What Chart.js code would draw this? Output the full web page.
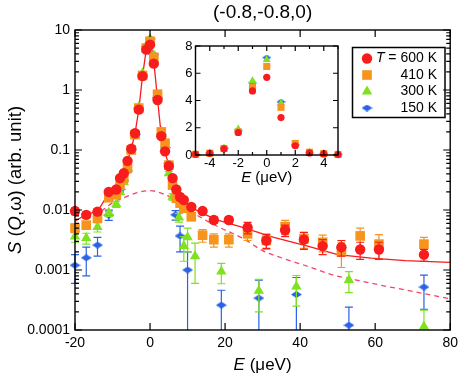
<!DOCTYPE html>
<html>
<head>
<meta charset="utf-8">
<script src="https://cdn.jsdelivr.net/npm/chart.js@4.4.0/dist/chart.umd.min.js"></script>
<style>
html, body { margin: 0; padding: 0; background: #fff; }
#wrap { position: relative; width: 463px; height: 375px; }
#main { position: absolute; left: 0; top: 0; }
#inset { position: absolute; left: 172px; top: 34px; }
</style>
</head>
<body>
<div id="wrap">
  <canvas id="main" width="463" height="375" style="width:463px;height:375px"></canvas>
  <canvas id="inset" width="175" height="160" style="width:175px;height:160px"></canvas>
</div>
<script>
// main panel: S(Q,w) against E (ueV), log scale
const E_600 = [-20,-17,-14,-11,-9,-8,-7,-6,-5,-4,-3,-2,-1,0,1,2,3,4,5,6,7,8,9,11,14,17,21,26,31,36,41,46,51,56,61,73];
const S_600 = [0.0096,0.0083,0.0094,0.020,0.022,0.034,0.041,0.066,0.105,0.19,0.47,1.7,4.7,5.7,2.75,0.68,0.17,0.095,0.054,0.034,0.022,0.0165,0.0147,0.0112,0.0096,0.0068,0.0068,0.0051,0.0031,0.0046,0.0032,0.0025,0.0024,0.0022,0.0022,0.0018];
const ERR_600 = [0.0012,0.001,0.001,0.0015,0.0015,0.002,0.002,0.003,0.004,0.006,0.01,0.03,0.06,0.07,0.05,0.02,0.006,0.004,0.003,0.002,0.0015,0.0012,0.0011,0.001,0.0009,0.0008,0.0008,0.0011,0.0008,0.001,0.001,0.0007,0.0007,0.0007,0.0007,0.0004];

const E_410 = [-20,-17,-14,-11,-9,-8,-7,-6,-5,-4,-3,-2,-1,0,1,2,3,4,5,6,7,8,9,11,14,17,21,26,31,36,41,46,51,56,61,73];
const S_410 = [0.0050,0.0056,0.0073,0.016,0.018,0.026,0.034,0.05,0.1,0.18,0.5,1.75,5.0,6.5,3.5,0.85,0.2,0.13,0.056,0.026,0.0157,0.013,0.0107,0.0077,0.0038,0.0032,0.0032,0.0040,0.0031,0.0053,0.0033,0.0029,0.0020,0.0037,0.0027,0.0027];
const ERR_410 = [0.0008,0.0008,0.0009,0.0015,0.0015,0.002,0.002,0.003,0.004,0.006,0.01,0.03,0.06,0.07,0.05,0.02,0.006,0.005,0.003,0.002,0.0015,0.0013,0.0012,0.001,0.0009,0.0008,0.0008,0.0009,0.0009,0.0014,0.001,0.0009,0.0009,0.0013,0.0012,0.0008];

const E_300 = [-20,-17,-14,-11,-9,-8,-7,-6,-5,-4,-3,-2,-1,0,1,2,3,4,5,6,7.7,9,10,12,19,29,39,53,73];
const S_300 = [0.0036,0.0034,0.0052,0.009,0.0125,0.02,0.029,0.05,0.1,0.18,0.52,1.9,5.45,7.0,3.8,0.78,0.2,0.12,0.041,0.0166,0.0075,0.0025,0.0035,0.0017,0.00094,0.00045,0.00053,0.00068,0.000114];
const ERR_300 = [0.0007,0.0007,0.0009,0.0012,0.0015,0.002,0.002,0.003,0.004,0.006,0.01,0.03,0.06,0.07,0.05,0.02,0.006,0.005,0.003,0.002,0.0012,0.0011,0.0015,0.0011,0.00035,0.00025,0.00028,0.00026,0.0001];

const E_150 = [-20,-17,-14,-11,-8,-7,-6,-5,-4,-3,-2,-1,0,1,2,3,4,5,6.8,8,10,19,29,39,53,73];
const S_150 = [0.0012,0.0016,0.0026,0.0082,0.022,0.031,0.045,0.1,0.18,0.5,1.8,5.3,7.1,3.9,0.75,0.18,0.11,0.06,0.0083,0.0037,0.001,0.00026,0.00034,0.00039,0.00012,0.00052];
const ERR_150 = [0.0006,0.0008,0.0009,0.0015,0.002,0.002,0.003,0.004,0.006,0.01,0.03,0.06,0.07,0.05,0.02,0.006,0.005,0.003,0.0015,0.0017,0.001,0.0002,0.00034,0.00036,0.00012,0.0003];

// fitted curve (solid) and broad component (dashed)
const E_FIT = [-20,-17,-14,-11,-9,-8,-7,-6,-5,-4,-3,-2,-1,0,1,2,3,4,5,6,7,8,9,11,14,18,24,33,42,50,59,68,80];
const S_FIT = [0.0065,0.0085,0.0095,0.019,0.022,0.033,0.041,0.066,0.105,0.19,0.47,1.7,4.8,7.2,3.0,0.7,0.17,0.095,0.054,0.034,0.022,0.0165,0.0147,0.011,0.0088,0.0068,0.0053,0.0035,0.0025,0.0018,0.00158,0.00143,0.00134];
const E_BROAD = [-13,-10,-7,-4,0,4,8,11,15.5,18,25,30,35,43,48,55,62,70,80];
const S_BROAD = [0.0095,0.0132,0.016,0.019,0.021,0.018,0.013,0.0094,0.0064,0.0053,0.0033,0.0021,0.0016,0.0011,0.00085,0.00068,0.00055,0.00044,0.00033];

// inset, linear scale
const INSET_E = [-5,-4,-3,-2,-1,0,1,2,3,4,5];
const INSET_600 = [0.05,0.12,0.45,1.65,4.7,5.7,2.75,0.68,0.15,0.08,0.03];
const INSET_410 = [0.05,0.13,0.48,1.7,5.0,6.5,3.5,0.85,0.2,0.1,0.04];
const INSET_300 = [0.05,0.15,0.5,1.9,5.45,7.0,3.8,0.75,0.2,0.1,0.04];
const INSET_150 = [0.05,0.15,0.5,1.8,5.3,7.15,3.9,0.75,0.18,0.1,0.04];

const LEGEND_LABELS = ['600 K', '410 K', '300 K', '150 K'];
const X_TICKS = [-20, 0, 20, 40, 60, 80];
const Y_TICKS = [0.0001, 0.001, 0.01, 0.1, 1, 10];
const Y_TICK_LABELS = ['0.0001', '0.001', '0.01', '0.1', '1', '10'];
const INSET_X_TICKS = [-4, -2, 0, 2, 4];
const INSET_X_MINOR = [-5, -3, -1, 1, 3, 5];
const INSET_Y_TICKS = [0, 2, 4, 6, 8];

const FONT = '"Liberation Sans", Arial, Helvetica, sans-serif';
const RED = '#f81c1c', ORANGE = '#f7941e', GREEN = '#7ee21e', BLUE = '#2a62e6', PINK = '#f0466a';

Chart.defaults.font.family = FONT;
Chart.defaults.color = '#000';

function pts(xs, ys) { return xs.map((x, i) => ({ x: x, y: ys[i] })); }

function diamond(w, h, color) {
    const c = document.createElement('canvas');
    c.width = w; c.height = h;
    const g = c.getContext('2d');
    g.fillStyle = color;
    g.beginPath();
    g.moveTo(0, h / 2); g.lineTo(w / 2, 0); g.lineTo(w, h / 2); g.lineTo(w / 2, h);
    g.closePath(); g.fill();
    return c;
}

// text with italic pieces, parts = [[text, italic], ...]
function richText(ctx, parts, x, y, size, align) {
    const fontOf = it => (it ? 'italic ' : '') + size + 'px ' + FONT;
    const widths = parts.map(p => { ctx.font = fontOf(p[1]); return ctx.measureText(p[0]).width; });
    const total = widths.reduce((a, b) => a + b, 0);
    let cx = align === 'right' ? x - total : x - total / 2;
    ctx.textAlign = 'left';
    ctx.textBaseline = 'middle';
    ctx.fillStyle = '#000';
    parts.forEach((p, i) => { ctx.font = fontOf(p[1]); ctx.fillText(p[0], cx, y); cx += widths[i]; });
}

// box + inward ticks on all four sides
const framePlugin = {
    id: 'frame',
    afterDraw(chart, args, o) {
        const ctx = chart.ctx, a = chart.chartArea;
        const xs = chart.scales.x, ys = chart.scales.y;
        ctx.save();
        ctx.strokeStyle = '#000';
        ctx.lineWidth = 1.2;
        ctx.beginPath();
        const tx = (v, len) => {
            const p = xs.getPixelForValue(v);
            ctx.moveTo(p, a.bottom); ctx.lineTo(p, a.bottom - len);
            ctx.moveTo(p, a.top); ctx.lineTo(p, a.top + len);
        };
        const ty = (v, len) => {
            const p = ys.getPixelForValue(v);
            ctx.moveTo(a.left, p); ctx.lineTo(a.left + len, p);
            ctx.moveTo(a.right, p); ctx.lineTo(a.right - len, p);
        };
        o.xMajor.forEach(v => tx(v, o.major));
        (o.xMinor || []).forEach(v => tx(v, o.minor));
        o.yMajor.forEach(v => ty(v, o.major));
        (o.yMinor || []).forEach(v => ty(v, o.minor));
        ctx.stroke();
        ctx.lineWidth = 1.4;
        ctx.strokeRect(a.left, a.top, a.right - a.left, a.bottom - a.top);
        ctx.restore();
    }
};

const errorBarPlugin = {
    id: 'errorBars',
    beforeDatasetDraw(chart, args) {
        const ds = chart.data.datasets[args.index];
        if (!ds.errors) return;
        const ctx = chart.ctx, a = chart.chartArea;
        const xs = chart.scales.x, ys = chart.scales.y;
        ctx.save();
        ctx.strokeStyle = ds.errColor;
        ctx.lineWidth = 1.2;
        ctx.beginPath();
        ds.data.forEach((p, i) => {
            const e = ds.errors[i];
            const px = xs.getPixelForValue(p.x);
            const lo = p.y - e;
            let yTop = ys.getPixelForValue(p.y + e);
            let yBot = lo > 0 ? ys.getPixelForValue(lo) : a.bottom;
            const botCap = lo > 0 && yBot <= a.bottom;
            yTop = Math.max(yTop, a.top);
            yBot = Math.min(yBot, a.bottom);
            ctx.moveTo(px, yTop); ctx.lineTo(px, yBot);
            ctx.moveTo(px - 4, yTop); ctx.lineTo(px + 4, yTop);
            if (botCap) { ctx.moveTo(px - 4, yBot); ctx.lineTo(px + 4, yBot); }
        });
        ctx.stroke();
        ctx.restore();
    }
};

const mainText = {
    id: 'mainText',
    afterDraw(chart) {
        const ctx = chart.ctx, a = chart.chartArea;
        ctx.save();
        richText(ctx, [['E', true], [' (\u03bceV)', false]], (a.left + a.right) / 2, 365, 17);
        ctx.translate(16, (a.top + a.bottom) / 2);
        ctx.rotate(-Math.PI / 2);
        richText(ctx, [['S', true], [' (', false], ['Q', true], [',\u03c9) (arb. unit)', false]], 0, 0, 18.5);
        ctx.restore();

        // legend box
        ctx.save();
        ctx.strokeStyle = '#000';
        ctx.lineWidth = 1.5;
        ctx.strokeRect(352.5, 47.5, 92.5, 70);
        const rows = [58.5, 75, 91.5, 108];
        chart.data.datasets.slice(0, 4).forEach((ds, i) => {
            ctx.fillStyle = ds.backgroundColor;
            Chart.helpers.drawPoint(ctx, { pointStyle: ds.pointStyle, radius: ds.pointRadius, rotation: 0, borderWidth: 0 }, 367, rows[i]);
            const parts = i === 0 ? [['T', true], [' = ' + LEGEND_LABELS[i], false]] : [[LEGEND_LABELS[i], false]];
            richText(ctx, parts, 437, rows[i], 14, 'right');
        });
        ctx.restore();
    }
};

const insetText = {
    id: 'insetText',
    beforeDraw(chart) {
        const ctx = chart.ctx, a = chart.chartArea;
        ctx.save();
        ctx.fillStyle = '#fff';
        ctx.fillRect(a.left, a.top, a.right - a.left, a.bottom - a.top);
        ctx.restore();
    },
    afterDraw(chart) {
        const ctx = chart.ctx, a = chart.chartArea;
        ctx.save();
        richText(ctx, [['E', true], [' (\u03bceV)', false]], (a.left + a.right) / 2, 144, 15);
        ctx.restore();
    }
};

function series(label, xs, ys, errs, color, style, r, order) {
    return {
        label: label, data: pts(xs, ys), errors: errs, errColor: color,
        backgroundColor: color, borderColor: color, borderWidth: 0,
        pointStyle: style, pointRadius: r, order: order, clip: false
    };
}

const yMinor = [];
Y_TICKS.slice(0, -1).forEach(d => { for (let k = 2; k <= 9; k++) yMinor.push(d * k); });

const blueMain = diamond(11, 7, BLUE);
const blueInset = diamond(9, 6, BLUE);

new Chart(document.getElementById('main'), {
    type: 'scatter',
    data: {
        datasets: [
            series('600 K', E_600, S_600, ERR_600, RED, 'circle', 5.2, 1),
            series('410 K', E_410, S_410, ERR_410, ORANGE, 'rect', 6.8, 2),
            series('300 K', E_300, S_300, ERR_300, GREEN, 'triangle', 6, 3),
            series('150 K', E_150, S_150, ERR_150, BLUE, blueMain, 5, 4),
            { label: 'fit', data: pts(E_FIT, S_FIT), showLine: true, pointRadius: 0, borderColor: RED, borderWidth: 1.3, order: 10 },
            { label: 'broad', data: pts(E_BROAD, S_BROAD), showLine: true, pointRadius: 0, borderColor: PINK, borderWidth: 1.3, borderDash: [5, 4], cubicInterpolationMode: 'monotone', order: 11 }
        ]
    },
    options: {
        responsive: false,
        animation: false,
        layout: { padding: { left: 0, right: 8, top: 0, bottom: 0 } },
        plugins: {
            legend: { display: false },
            tooltip: { enabled: false },
            title: { display: true, text: '(-0.8,-0.8,0)', fullSize: false, color: '#000', font: { size: 19, weight: 'normal' }, padding: { top: 1, bottom: 6.2 } },
            frame: { xMajor: X_TICKS, yMajor: Y_TICKS, yMinor: yMinor, major: 7, minor: 4 }
        },
        scales: {
            x: {
                type: 'linear', min: -20, max: 80,
                grid: { display: false, drawTicks: false }, border: { display: false },
                ticks: { font: { size: 14 }, padding: 5, maxRotation: 0, autoSkip: false, callback: v => String(v) },
                afterBuildTicks: s => { s.ticks = X_TICKS.map(v => ({ value: v })); },
                afterFit: s => { s.height = 45; }
            },
            y: {
                type: 'logarithmic', min: 0.0001, max: 10,
                grid: { display: false, drawTicks: false }, border: { display: false },
                ticks: { font: { size: 14 }, padding: 5, autoSkip: false, callback: (v, i) => Y_TICK_LABELS[i] },
                afterBuildTicks: s => { s.ticks = Y_TICKS.map(v => ({ value: v })); },
                afterFit: s => { s.width = 75; }
            }
        }
    },
    plugins: [framePlugin, errorBarPlugin, mainText]
});

new Chart(document.getElementById('inset'), {
    type: 'scatter',
    data: {
        datasets: [
            series('600 K', INSET_E, INSET_600, null, RED, 'circle', 3.6, 1),
            series('410 K', INSET_E, INSET_410, null, ORANGE, 'rect', 5, 2),
            series('300 K', INSET_E, INSET_300, null, GREEN, 'triangle', 4.6, 3),
            series('150 K', INSET_E, INSET_150, null, BLUE, blueInset, 4, 4)
        ]
    },
    options: {
        responsive: false,
        animation: false,
        layout: { padding: { left: 0, right: 9, top: 12, bottom: 0 } },
        plugins: {
            legend: { display: false },
            tooltip: { enabled: false },
            frame: { xMajor: INSET_X_TICKS, xMinor: INSET_X_MINOR, yMajor: INSET_Y_TICKS, major: 5, minor: 3 }
        },
        scales: {
            x: {
                type: 'linear', min: -5, max: 5,
                grid: { display: false, drawTicks: false }, border: { display: false },
                ticks: { font: { size: 13 }, padding: 1, maxRotation: 0, autoSkip: false, callback: v => String(v) },
                afterBuildTicks: s => { s.ticks = INSET_X_TICKS.map(v => ({ value: v })); },
                afterFit: s => { s.height = 39; }
            },
            y: {
                type: 'linear', min: 0, max: 8,
                grid: { display: false, drawTicks: false }, border: { display: false },
                ticks: { font: { size: 13 }, padding: 3, autoSkip: false, callback: v => String(v) },
                afterBuildTicks: s => { s.ticks = INSET_Y_TICKS.map(v => ({ value: v })); },
                afterFit: s => { s.width = 23.5; }
            }
        }
    },
    plugins: [framePlugin, insetText]
});
</script>
</body>
</html>
